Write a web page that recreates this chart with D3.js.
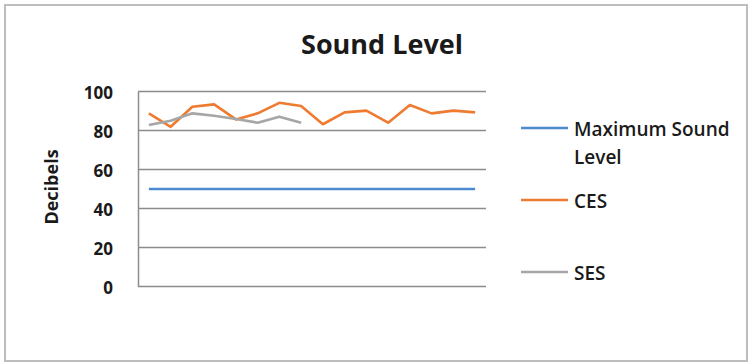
<!DOCTYPE html>
<html>
<head>
<meta charset="utf-8">
<script src="https://cdn.jsdelivr.net/npm/d3@7/dist/d3.min.js"></script>
<style>
  html, body { margin: 0; padding: 0; background: #fff; }
  svg { display: block; }
  text { font-family: "Open Sans", Lato, sans-serif; fill: #1a1a1a; }
</style>
</head>
<body>
<svg id="chart" width="752" height="364"></svg>
<script>
// Sample index for each reading
const categories = d3.range(1, 17);
const maxLevel = [50, 50, 50, 50, 50, 50, 50, 50, 50, 50, 50, 50, 50, 50, 50, 50];
const ces = [88.8, 81.9, 92.2, 93.4, 85.7, 88.8, 94.2, 92.6, 83.2, 89.3, 90.2, 84.0, 93.1, 88.8, 90.2, 89.3];
const ses = [82.8, 85.0, 88.8, 87.6, 85.9, 84.0, 87.1, 84.0];
const yTicks = [0, 20, 40, 60, 80, 100];

const seriesNames = ["Maximum Sound Level", "CES", "SES"];
const seriesColors = ["#4f8ad0", "#ee7b30", "#a6a6a6"];

const svg = d3.select("#chart");

// Outer chart frame
svg.append("rect")
  .attr("x", 5).attr("y", 5).attr("width", 742).attr("height", 356)
  .attr("fill", "#fff").attr("stroke", "#bdbdbd").attr("stroke-width", 2);

const plot = { left: 138, right: 486, top: 91.5, bottom: 286.5 };

const x = d3.scaleBand().domain(categories).range([plot.left, plot.right]);
const y = d3.scaleLinear().domain([0, 100]).range([plot.bottom, plot.top]);

// Horizontal gridlines
svg.append("g")
  .selectAll("line").data(yTicks).join("line")
  .attr("x1", plot.left).attr("x2", plot.right)
  .attr("y1", d => y(d)).attr("y2", d => y(d))
  .attr("stroke", "#8c8c8c").attr("stroke-width", 1.5);

// Left value axis
const yAxis = svg.append("g")
  .attr("transform", `translate(${plot.left},0)`)
  .call(d3.axisLeft(y).tickValues(yTicks).tickSize(0).tickPadding(25));
yAxis.select(".domain").attr("stroke", "#8c8c8c").attr("stroke-width", 1.5);
yAxis.selectAll("text")
  .attr("font-size", 17).attr("font-weight", "bold")
  .attr("dy", "0.42em")
  .style("font-family", "'Open Sans', sans-serif").attr("fill", "#1a1a1a");

// Axis title
svg.append("text")
  .attr("transform", `translate(58,${(plot.top + plot.bottom) / 2 - 2}) rotate(-90)`)
  .attr("text-anchor", "middle")
  .attr("font-size", 18).attr("font-weight", "bold")
  .text("Decibels");

// Chart title
svg.append("text")
  .attr("x", 382).attr("y", 54)
  .attr("text-anchor", "middle")
  .attr("font-size", 27).attr("font-weight", "bold")
  .text("Sound Level");

// Series lines
const line = d3.line()
  .x((d, i) => x(categories[i]) + x.bandwidth() / 2)
  .y(d => y(d));

[maxLevel, ces, ses].forEach((vals, k) => {
  svg.append("path")
    .datum(vals)
    .attr("fill", "none")
    .attr("stroke", seriesColors[k])
    .attr("stroke-width", 2.6)
    .attr("stroke-linejoin", "round")
    .attr("d", line);
});

// Legend
const legendY = [128, 200, 272];
const legend = svg.append("g");
seriesNames.forEach((name, k) => {
  legend.append("line")
    .attr("x1", 521).attr("x2", 568)
    .attr("y1", legendY[k]).attr("y2", legendY[k])
    .attr("stroke", seriesColors[k]).attr("stroke-width", 2.6);
  const t = legend.append("text")
    .attr("x", 574).attr("y", legendY[k] + 8)
    .attr("font-size", 19).attr("font-weight", 600);
  if (k === 0) {
    t.append("tspan").attr("x", 574).text("Maximum Sound");
    t.append("tspan").attr("x", 574).attr("dy", 28).text("Level");
  } else {
    t.text(name);
  }
});
</script>
</body>
</html>
